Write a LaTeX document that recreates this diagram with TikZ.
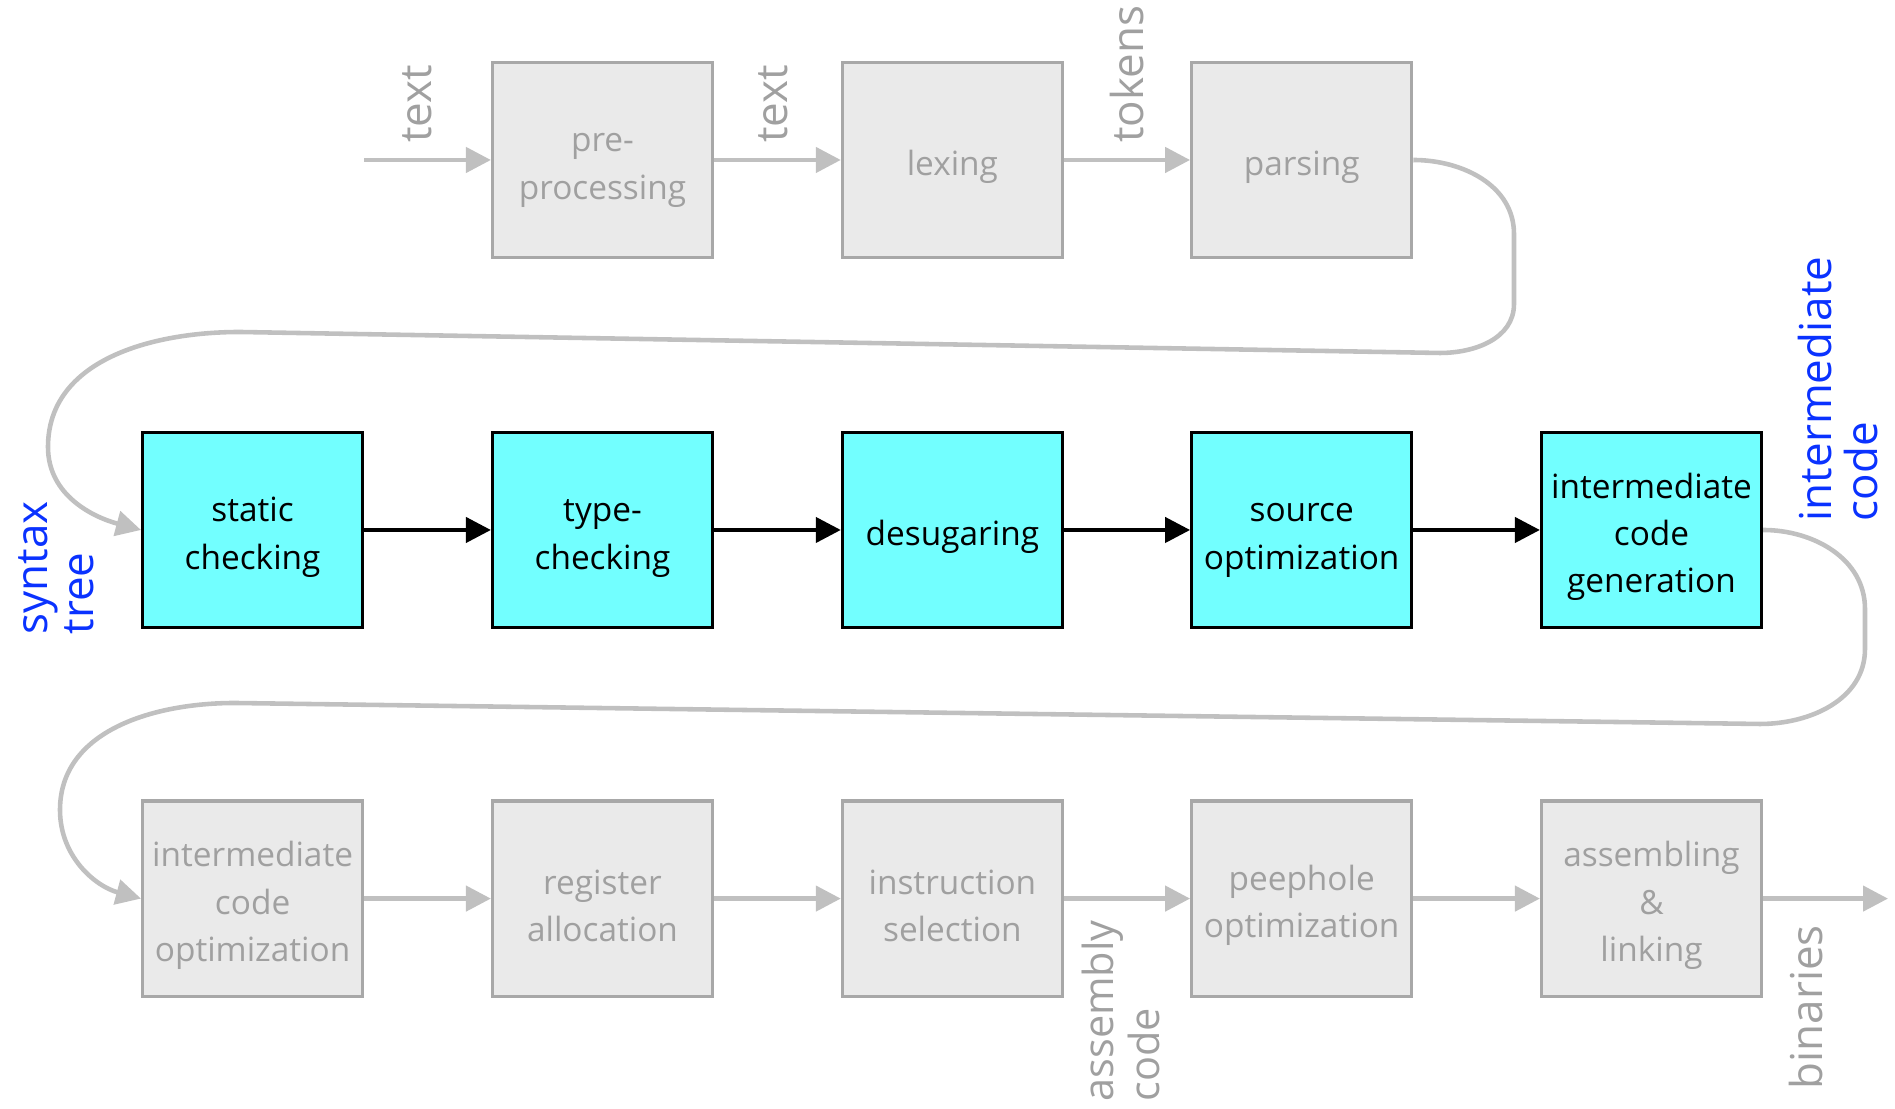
\documentclass[tikz,border=0pt]{standalone}
\usepackage{fontspec}
\setmainfont{Open Sans}
\usetikzlibrary{arrows.meta}

\definecolor{stagecyan}{RGB}{114,255,255}
\definecolor{ghostfill}{RGB}{234,234,234}
\definecolor{ghostline}{RGB}{168,168,168}
\definecolor{ghosttext}{RGB}{160,160,160}
\definecolor{ghostarrow}{RGB}{192,192,192}
\definecolor{tagblue}{RGB}{10,50,255}

% taller first line, so the box text sits a touch lower
\newcommand{\boxstrut}{\rule{0pt}{3.9mm}}

\begin{document}
\begin{tikzpicture}[
   every node/.style={font=\fontsize{9.5}{13.4}\selectfont},
   stage/.style={draw=black,line width=0.9pt,fill=stagecyan,minimum width=2.2cm,
                 minimum height=1.95cm,align=center,inner sep=1pt},
   ghost/.style={stage,draw=ghostline,fill=ghostfill,text=ghosttext},
   flow/.style={line width=1.2pt,-{Triangle[length=2.5mm,width=2.5mm]}},
   gflow/.style={flow,line width=1.3pt,ghostarrow},
   tag/.style={rotate=90,align=left,inner sep=1pt,font=\fontsize{12.5}{13}\selectfont},
   note/.style={tag,text=ghosttext},
   kind/.style={tag,text=tagblue}
]
\useasboundingbox (0,0) rectangle (18.95,11.09);

% ---------- front end (greyed out) ----------
\node[ghost] (PP)  at (6.025,9.49)  {\boxstrut pre-\\processing};
\node[ghost] (LEX) at (9.524,9.49)  {\boxstrut lexing};
\node[ghost] (PAR) at (13.017,9.49) {\boxstrut parsing};
\coordinate (IN) at (3.64,9.49);

\draw[gflow] (IN) -- (PP);
\draw[gflow] (PP) -- (LEX);
\draw[gflow] (LEX) -- (PAR);

\node[note,anchor=west] at (4.17,9.62)  {text};
\node[note,anchor=west] at (7.73,9.62)  {text};
\node[note,anchor=west] at (11.27,9.62) {tokens};

% ---------- middle end (highlighted) ----------
\node[stage] (SC)  at (2.526,5.79)  {\boxstrut static\\checking};
\node[stage] (TC)  at (6.025,5.79)  {\boxstrut type-\\checking};
\node[stage] (DS)  at (9.524,5.79)  {\boxstrut desugaring};
\node[stage] (SO)  at (13.017,5.79) {\boxstrut source\\optimization};
\node[stage] (ICG) at (16.515,5.79) {\boxstrut intermediate\\code\\generation};

\foreach \a/\b in {SC/TC,TC/DS,DS/SO,SO/ICG}
  \draw[flow] (\a) -- (\b);

% parser output wraps round to the start of the middle row
\draw[gflow] (PAR.east) to[out=0,in=90] (15.14,8.75) -- (15.14,8.05)
   to[out=-90,in=0] (14.4,7.56) -- (2.4,7.77)
   to[out=180,in=90] (0.48,6.62) to[out=-90,in=165] (SC.west);
\node[kind] at (0.56,5.41) {syntax\\tree};

% ---------- back end (greyed out) ----------
\node[ghost] (ICO) at (2.526,2.104)  {\boxstrut intermediate\\code\\optimization};
\node[ghost] (RA)  at (6.025,2.104)  {\boxstrut register\\allocation};
\node[ghost] (IS)  at (9.524,2.104)  {\boxstrut instruction\\selection};
\node[ghost] (PO)  at (13.017,2.104) {\boxstrut peephole\\optimization};
\node[ghost] (AL)  at (16.515,2.104) {\boxstrut assembling\\\&\\linking};
\coordinate (OUT) at (18.88,2.104);

\draw[gflow] (ICG.east) to[out=0,in=90] (18.65,5.0) -- (18.65,4.6)
   to[out=-90,in=0] (17.6,3.85) -- (2.35,4.06)
   to[out=180,in=90] (0.60,2.99) to[out=-90,in=165] (ICO.west);
\node[kind] at (18.38,7.20) {intermediate\\code};

\foreach \a/\b in {ICO/RA,RA/IS,IS/PO,PO/AL,AL/OUT}
  \draw[gflow] (\a) -- (\b);

\node[note,anchor=east,font=\fontsize{11.8}{13}\selectfont] at (11.21,1.93)
   {assembly\\code};
\node[note,anchor=east] at (18.06,1.88) {binaries};

\end{tikzpicture}
\end{document}
